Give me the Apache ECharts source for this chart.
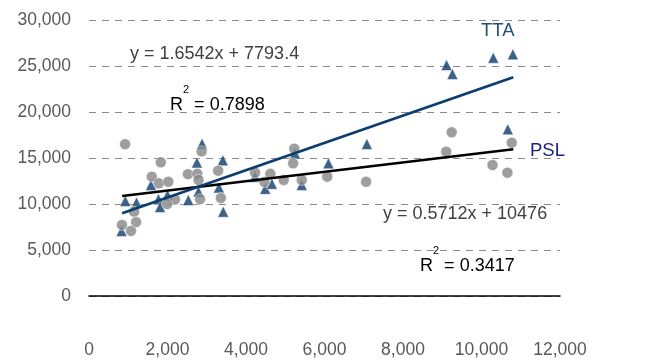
<!DOCTYPE html>
<html>
<head>
<meta charset="utf-8">
<script src="https://cdn.jsdelivr.net/npm/echarts@6/dist/echarts.min.js"></script>
<style>html,body{margin:0;padding:0;background:#fff;}#c{width:666px;height:362px;}</style>
</head>
<body>
<div id="c"></div>
<script>
// PSL (circles) [x, y]
var pslPoints = [
  [920,16500],[1830,14530],[1600,12970],[1780,12250],[2020,12420],[2520,13240],
  [2760,13280],[2790,12610],[2870,15720],[3290,13620],[3360,10650],[2830,10520],
  [2190,10490],[1990,10000],[1150,9160],[1200,8040],[840,7720],[1070,7070],
  [4230,13420],[4470,12390],[4620,13280],[4960,12610],[5200,14420],[5230,16010],
  [5420,12610],[6070,12970],[7060,12420],[9100,15690],[9240,17790],[10280,14240],
  [10660,13400],[10770,16660]
];
// TTA (triangles) [x, y]
var ttaPoints = [
  [2880,16550],[2750,14510],[3410,14750],[1580,12070],[925,10330],[1210,10160],
  [1770,10540],[1810,9670],[2000,10980],[2530,10430],[2790,11360],[3310,11790],
  [3420,9160],[4490,11650],[4660,12200],[830,7070],[5250,15490],[5420,12070],
  [4230,12970],[6100,14420],[7080,16520],[9110,25110],[9260,24130],[10300,25900],
  [10800,26270],[10670,18120]
];
// Trend line end points [x, y]
var ttaTrend = [[845,9000],[10810,23780]];
var pslTrend = [[845,10870],[10810,15950]];
// Annotation texts
var ttaEquation = 'y = 1.6542x + 7793.4';
var ttaR2 = '0.7898';
var pslEquation = 'y = 0.5712x + 10476';
var pslR2 = '0.3417';
var seriesNames = ['TTA', 'PSL'];

var FONT = 'Liberation Sans';
var chart = echarts.init(document.getElementById('c'), null, {renderer: 'canvas'});
function fmt(v){ return v.toLocaleString('en-US'); }
function r2Text(v){ return '{a|R}{s|2}{a| = ' + v + '}'; }
var r2Rich = {
  a: {fontFamily: FONT, fontSize: 18, color: '#404040', lineHeight: 30, verticalAlign: 'bottom'},
  s: {fontFamily: FONT, fontSize: 11, color: '#404040', lineHeight: 30, verticalAlign: 'top'}
};
chart.setOption({
  animation: false,
  backgroundColor: '#ffffff',
  grid: {left: 89, right: 106, top: 20, bottom: 66, containLabel: false},
  xAxis: {
    type: 'value', min: 0, max: 12000, interval: 2000,
    axisLine: {show: true, lineStyle: {color: '#000000', width: 1.5}},
    axisTick: {show: false},
    splitLine: {show: false},
    axisLabel: {margin: 45, color: '#595959', fontFamily: FONT, fontSize: 17.5, formatter: fmt}
  },
  yAxis: {
    type: 'value', min: 0, max: 30000, interval: 5000,
    axisLine: {show: false},
    axisTick: {show: false},
    splitLine: {show: true, lineStyle: {color: '#8a8a8a', width: 1, type: [7, 6]}},
    axisLabel: {margin: 18, color: '#595959', fontFamily: FONT, fontSize: 17.5, formatter: fmt}
  },
  series: [
    {name: seriesNames[0], type: 'scatter', data: ttaPoints, symbol: 'triangle', symbolSize: 11,
     itemStyle: {color: '#0d3a6b', borderColor: '#ffffff', borderWidth: 0.6}, z: 2},
    {name: seriesNames[1], type: 'scatter', data: pslPoints, symbol: 'circle', symbolSize: 11,
     itemStyle: {color: '#868686', borderColor: '#ffffff', borderWidth: 0.6}, z: 3},
    {name: 'PSL trend', type: 'line', data: pslTrend, symbol: 'none',
     lineStyle: {color: '#000000', width: 2.6}, z: 4},
    {name: 'TTA trend', type: 'line', data: ttaTrend, symbol: 'none',
     lineStyle: {color: '#0b3d6e', width: 2.8}, z: 5}
  ],
  graphic: [
    {type: 'text', left: 481, top: 21, z: 10,
     style: {text: seriesNames[0], fontFamily: FONT, fontSize: 18.5, fill: '#1f4e79'}},
    {type: 'text', left: 530, top: 141, z: 10,
     style: {text: seriesNames[1], fontFamily: FONT, fontSize: 18.5, fill: '#1c1c8a'}},
    {type: 'text', left: 130, top: 45, z: 10,
     style: {text: ttaEquation, fontFamily: FONT, fontSize: 18, fill: '#404040'}},
    {type: 'text', left: 170, top: 84, z: 10,
     style: {text: r2Text(ttaR2), rich: r2Rich}},
    {type: 'text', left: 383, top: 205, z: 10,
     style: {text: pslEquation, fontFamily: FONT, fontSize: 18, fill: '#404040'}},
    {type: 'text', left: 420, top: 245, z: 10,
     style: {text: r2Text(pslR2), rich: r2Rich}}
  ]
});
</script>
</body>
</html>
